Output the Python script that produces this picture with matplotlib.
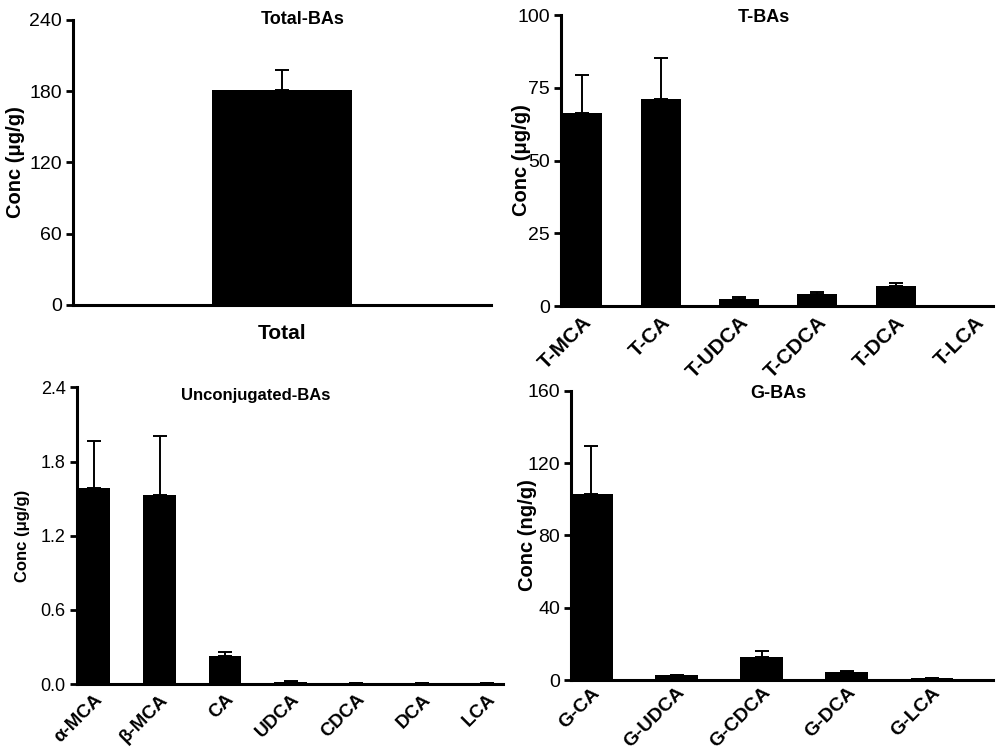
import matplotlib
matplotlib.use("Agg")
import matplotlib.pyplot as plt
import numpy as np

plt.rcParams['font.family'] = ['Liberation Sans', 'DejaVu Sans']

# Total bile acids
total_cats = ["Total"]
total_vals = [181]
total_err = [17]

# taurine conjugated
t_cats = ["T-MCA", "T-CA", "T-UDCA", "T-CDCA", "T-DCA", "T-LCA"]
t_vals = [66.4, 71.1, 2.4, 4.0, 7.0, 0.1]
t_err = [13.0, 14.0, 0.6, 0.9, 0.8, 0.0]

# unconjugated
u_cats = ["\u03b1-MCA", "\u03b2-MCA", "CA", "UDCA", "CDCA", "DCA", "LCA"]
u_vals = [1.588, 1.526, 0.229, 0.015, 0.010, 0.010, 0.006]
u_err = [0.378, 0.480, 0.027, 0.010, 0.002, 0.002, 0.001]

# glycine conjugated
g_cats = ["G-CA", "G-UDCA", "G-CDCA", "G-DCA", "G-LCA"]
g_vals = [102.7, 2.8, 12.9, 4.4, 1.1]
g_err = [26.9, 0.2, 3.3, 0.6, 0.1]

fig = plt.figure(figsize=(10.05, 7.56), dpi=100)


def panel(rect, cats, vals, err, title, tx, ty, ylabel, yticks, xlim, width,
          tick_fs, lab_fs, xlab_fs, title_fs, rot, labelpad, xpad=5):
    ax = fig.add_axes(rect)
    x = np.arange(len(cats))
    ax.bar(x, vals, width=width, color="black", zorder=2)
    lower = np.zeros(len(vals))
    ax.errorbar(x, vals, yerr=[lower, err], fmt="none", ecolor="black",
                elinewidth=1.4, capsize=5, capthick=1.4, zorder=1)
    ax.set_xlim(*xlim)
    ax.set_ylim(yticks[0], yticks[-1])
    ax.set_yticks(yticks)
    if isinstance(yticks[1], float):
        ax.set_yticklabels(["%.1f" % v for v in yticks])
    ax.set_xticks(x)
    if rot:
        ax.set_xticklabels(cats, rotation=45, ha="right", va="top",
                           rotation_mode="anchor", fontweight="bold",
                           fontsize=xlab_fs)
        ax.tick_params(axis="x", length=0, pad=xpad)
    else:
        ax.set_xticklabels(cats, fontweight="bold", fontsize=xlab_fs)
        ax.tick_params(axis="x", length=0, pad=14)
    ax.tick_params(axis="y", direction="out", length=5, width=2,
                   labelsize=tick_fs, pad=3)
    for s in ["top", "right"]:
        ax.spines[s].set_visible(False)
    for s in ["left", "bottom"]:
        ax.spines[s].set_linewidth(2.2)
    ax.set_ylabel(ylabel, fontweight="bold", fontsize=lab_fs, labelpad=labelpad)
    ax.text(tx, ty, title, transform=ax.transAxes, ha="center", va="center",
            fontweight="bold", fontsize=title_fs)
    return ax


panel([0.0726, 0.5966, 0.4159, 0.377], total_cats, total_vals, total_err,
      "Total-BAs", 0.55, 1.0, "Conc (\u03bcg/g)", [0, 60, 120, 180, 240],
      (-0.5, 0.5), 0.335, 14, 14.5, 15, 13, False, 3)

panel([0.5582, 0.5952, 0.4299, 0.3849], t_cats, t_vals, t_err,
      "T-BAs", 0.47, 0.993, "Conc (\u03bcg/g)", [0, 25, 50, 75, 100],
      (-0.27, 5.24), 0.51, 14, 14.5, 15, 13, True, -10)

panel([0.0766, 0.0952, 0.4239, 0.3924], u_cats, u_vals, u_err,
      "Unconjugated-BAs", 0.42, 0.973, "Conc (\u03bcg/g)",
      [0.0, 0.6, 1.2, 1.8, 2.4],
      (-0.26, 6.24), 0.5, 13, 12, 13.5, 12, True, 8)

panel([0.5682, 0.1005, 0.4199, 0.3827], g_cats, g_vals, g_err,
      "G-BAs", 0.49, 0.99, "Conc (ng/g)", [0, 40, 80, 120, 160],
      (-0.24, 4.72), 0.5, 14, 14.5, 14, 13, True, -7, xpad=3)

fig.savefig("out.png", dpi=100)
